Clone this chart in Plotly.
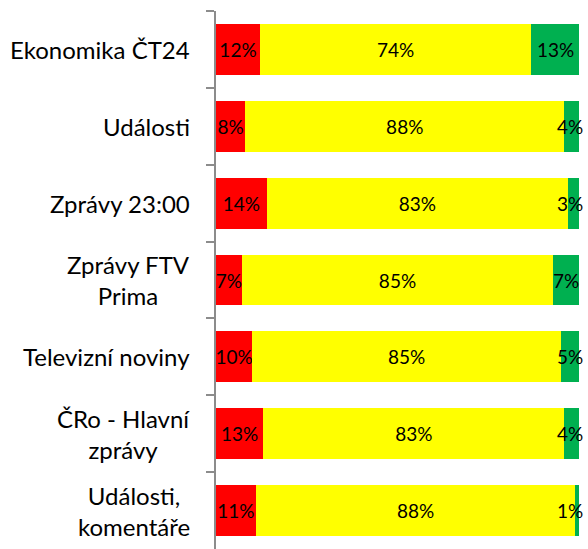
import plotly.graph_objects as go

categories = ["Ekonomika ČT24", "Události", "Zprávy 23:00", "Zprávy FTV<br>Prima",
              "Televizní noviny", "ČRo - Hlavní<br>zprávy", "Události,<br>komentáře"]
red_vals = [12, 8, 14, 7, 10, 13, 11]
yellow_vals = [74, 88, 83, 85, 85, 83, 88]
green_vals = [13, 4, 3, 7, 5, 4, 1]

FONT = "Lato"
fig = go.Figure()
for vals, color, show_text in [(red_vals, "#FF0000", True), (yellow_vals, "#FFFF00", True),
                               (green_vals, "#00B050", False)]:
    fig.add_trace(go.Bar(
        y=categories, x=vals, orientation="h",
        marker=dict(color=color, line=dict(width=0)),
        text=[f"{v}%" for v in vals] if show_text else None,
        textposition="inside" if show_text else "none",
        insidetextanchor="middle", textangle=0,
        textfont=dict(family=FONT, size=19, color="black"),
        cliponaxis=False, hoverinfo="skip",
    ))

# green labels: centred on segment, kept inside the plot's right edge
for c, r, yv, g in zip(categories, red_vals, yellow_vals, green_vals):
    total = r + yv + g
    mid = (r + yv + g / 2) / total * 100
    fig.add_annotation(xref="x", yref="y", x=min(mid, 97.4), y=c, text=f"{g}%",
                       showarrow=False, xanchor="center", yanchor="middle",
                       font=dict(family=FONT, size=19, color="black"))

for c in categories:
    fig.add_annotation(xref="paper", yref="y", x=0, y=c, text=c, showarrow=False,
                       xanchor="right", yanchor="middle", align="center", xshift=-24,
                       font=dict(family=FONT, size=24, color="black"))

fig.update_layout(
    width=588, height=549,
    margin=dict(l=216, r=9, t=11, b=0),
    barmode="stack", barnorm="percent", bargap=0.34,
    showlegend=False,
    plot_bgcolor="white", paper_bgcolor="white",
    uniformtext=dict(mode="show", minsize=19),
)
fig.update_xaxes(range=[0, 100], visible=False)
fig.update_yaxes(autorange="reversed", showticklabels=False, showgrid=False,
                 showline=True, linecolor="#8C8C8C", linewidth=1.5,
                 ticks="outside", ticklen=8, tickcolor="#8C8C8C", tickwidth=1.5,
                 tickson="boundaries")
fig.write_html("out.html", config={"displayModeBar": False},
               post_script="document.body.style.margin='0';")
